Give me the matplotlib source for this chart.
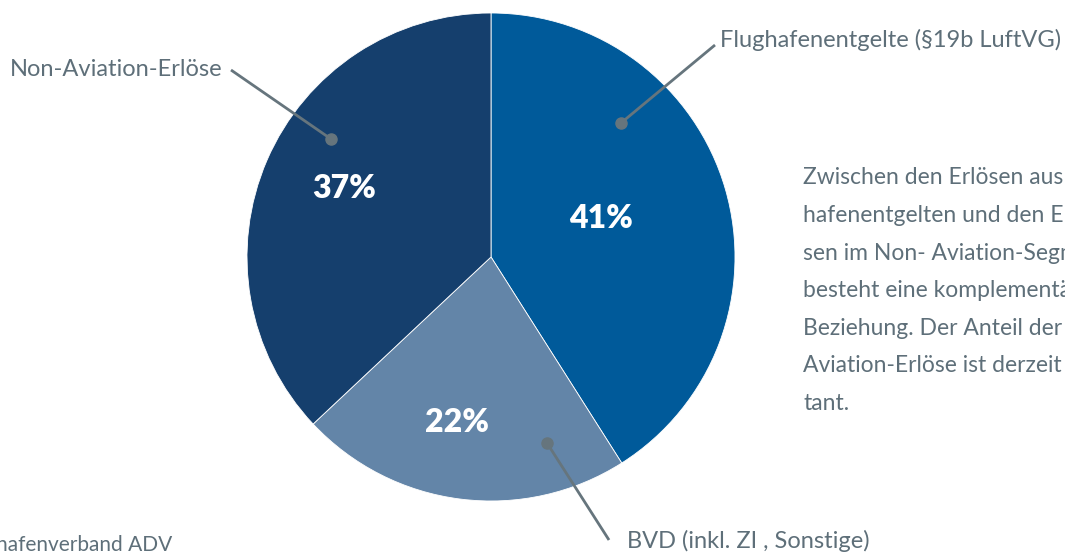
import matplotlib.pyplot as plt

plt.rcParams['font.family'] = ['Lato', 'DejaVu Sans']

# revenue shares, clockwise from 12 o'clock
segments = ['Flughafenentgelte (§19b LuftVG)', 'BVD (inkl. ZI , Sonstige)', 'Non-Aviation-Erlöse']
shares = [41, 22, 37]
colors = ['#005a9a', '#6385a8', '#153f6d']

note_lines = [
    'Zwischen den Erlösen aus Flug-',
    'hafenentgelten und den Erlö-',
    'sen im Non- Aviation-Segment',
    'besteht eine komplementäre',
    'Beziehung. Der Anteil der Non-',
    'Aviation-Erlöse ist derzeit kons-',
    'tant.',
]
source = 'Quelle: Flughafenverband ADV'

W, H = 1065, 553
grey = '#5e6f79'
line_grey = '#66757d'

fig = plt.figure(figsize=(W / 100, H / 100), dpi=100)
ax = fig.add_axes([0, 0, 1, 1])

cx, cy, r = 491, H - 257, 244
ax.pie(shares, colors=colors, startangle=90, counterclock=False,
       center=(cx, cy), radius=r, frame=True,
       wedgeprops=dict(edgecolor='white', linewidth=0.6))
ax.set_xlim(0, W)
ax.set_ylim(0, H)
ax.set_aspect('equal')
ax.axis('off')

# percentage labels inside the slices (pixel positions, y from top)
pct_pos = [(601, 219), (457, 422), (344, 188)]
for val, (x, y) in zip(shares, pct_pos):
    ax.text(x, H - y, f'{val}%', color='white', fontsize=23, fontweight='heavy',
            ha='center', va='center')

# leader lines: dot in slice -> label
leaders = [
    ((621, 123), (715, 45), (720, 40), 'left'),
    ((547, 443), (609, 540), (627, 541), 'left'),
    ((331, 139), (231, 70), (222, 70), 'right'),
]
for name, (dot, end, txt, ha) in zip(segments, leaders):
    ax.plot([dot[0], end[0]], [H - dot[1], H - end[1]], color=line_grey, lw=2,
            solid_capstyle='butt')
    ax.plot(dot[0], H - dot[1], 'o', color=line_grey, ms=8)
    ax.text(txt[0], H - txt[1], name, color=grey, fontsize=17, ha=ha, va='center')

# explanatory note on the right
for i, line in enumerate(note_lines):
    ax.text(803, H - (178 + i * 37.6), line, color=grey, fontsize=16.5,
            ha='left', va='center')

ax.text(172, H - 545, source, color=grey, fontsize=15, ha='right', va='center')

fig.savefig('out.png', dpi=100)
